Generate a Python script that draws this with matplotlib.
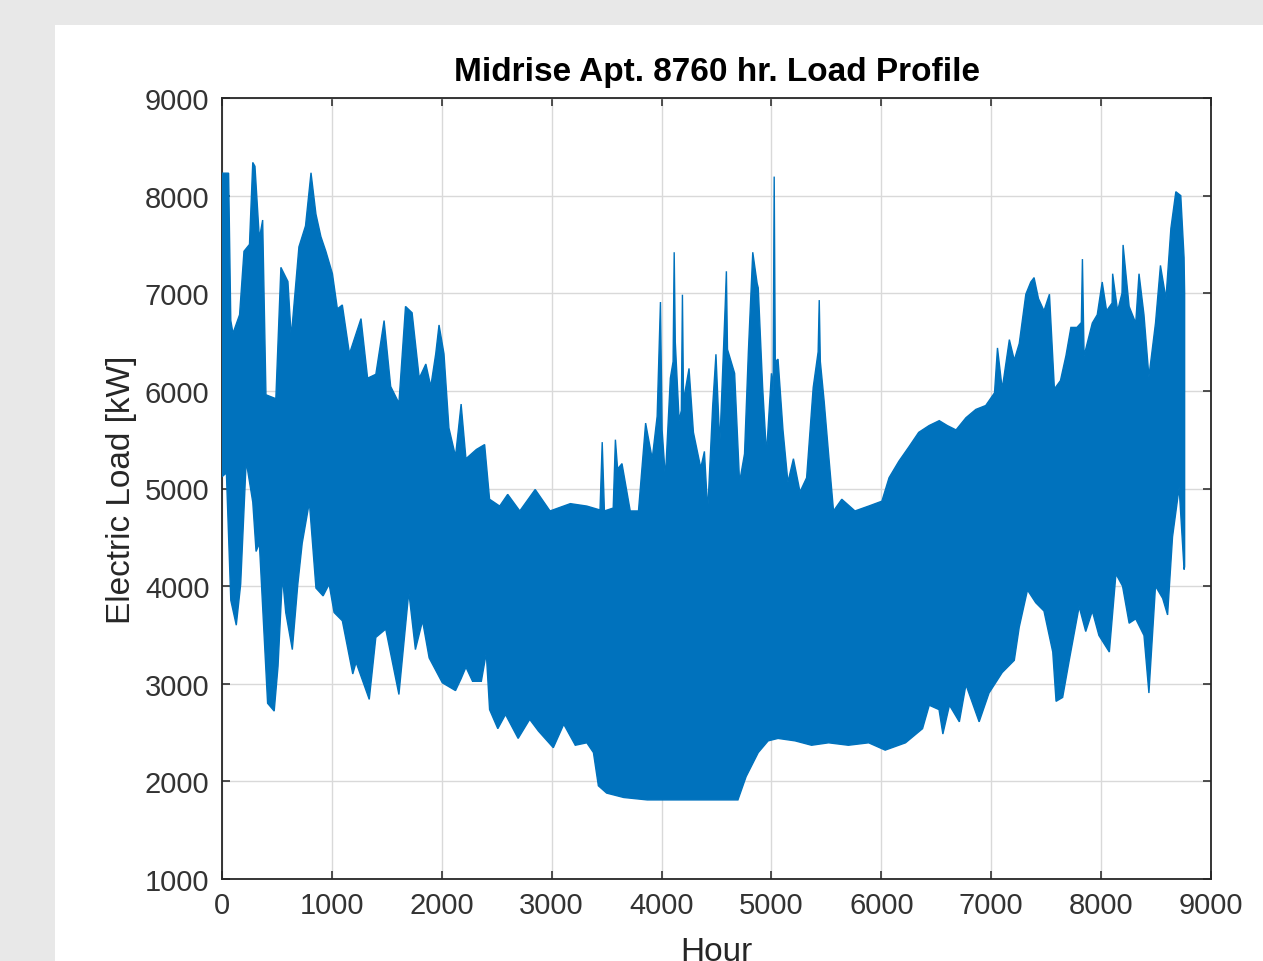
import numpy as np
import matplotlib
matplotlib.use("Agg")
import matplotlib.pyplot as plt
from matplotlib.patches import Rectangle

# upper envelope of the hourly load (hour, kW)
upper_hours = [0, 30, 60, 80, 100, 160, 200, 250, 280, 300, 340, 370, 400, 490, 536, 600, 630,
               700, 760, 810, 855, 900, 945, 1005, 1050, 1095, 1160, 1265, 1325, 1400, 1475, 1535,
               1610, 1670, 1730, 1795, 1855, 1900, 1945, 1975, 2020, 2065, 2125, 2176, 2220, 2315,
               2390, 2435, 2527, 2600, 2710, 2850, 2985, 3170, 3320, 3440, 3460, 3480, 3560, 3580,
               3600, 3640, 3715, 3790, 3855, 3915, 3960, 3990, 4005, 4035, 4080, 4105, 4115, 4125,
               4160, 4180, 4190, 4200, 4250, 4290, 4357, 4390, 4420, 4465, 4495, 4530, 4580, 4590,
               4600, 4665, 4710, 4755, 4790, 4830, 4870, 4880, 4920, 4955, 5000, 5015, 5025, 5035,
               5060, 5105, 5150, 5200, 5260, 5320, 5380, 5425, 5435, 5445, 5480, 5520, 5565, 5640,
               5760, 5885, 6005, 6070, 6160, 6250, 6340, 6435, 6527, 6600, 6680, 6770, 6860, 6950,
               7030, 7057, 7100, 7165, 7210, 7255, 7315, 7360, 7390, 7430, 7480, 7530, 7575, 7630,
               7680, 7725, 7780, 7820, 7830, 7845, 7920, 7965, 8010, 8050, 8100, 8105, 8150, 8190,
               8200, 8255, 8315, 8345, 8390, 8435, 8495, 8540, 8590, 8635, 8680, 8725, 8755, 8760]
upper_load = [8230, 8230, 8230, 6720, 6590, 6780, 7430, 7500, 8340, 8300, 7560, 7750, 5960, 5920,
              7265, 7120, 6550, 7475, 7690, 8234, 7810, 7580, 7430, 7200, 6840, 6880, 6380, 6740,
              6130, 6170, 6720, 6045, 5875, 6865, 6800, 6130, 6275, 6045, 6380, 6675, 6380, 5620,
              5330, 5865, 5305, 5400, 5450, 4890, 4820, 4940, 4770, 4990, 4770, 4845, 4820, 4780,
              5475, 4770, 4800, 5500, 5200, 5255, 4770, 4770, 5670, 5305, 5740, 6910, 5600, 5110,
              6130, 6300, 7420, 6500, 5695, 5800, 6985, 5900, 6230, 5575, 5210, 5380, 4770, 5840,
              6375, 5450, 6900, 7225, 6425, 6180, 5065, 5355, 6400, 7420, 7100, 7055, 6035, 5355,
              6180, 6000, 8195, 6300, 6325, 5600, 5065, 5305, 4965, 5110, 6035, 6400, 6930, 6300,
              5890, 5355, 4770, 4890, 4770, 4820, 4870, 5110, 5280, 5425, 5575, 5645, 5695, 5645,
              5600, 5725, 5810, 5850, 5980, 6440, 6020, 6525, 6315, 6485, 6990, 7115, 7160, 6945,
              6820, 6990, 6020, 6105, 6360, 6650, 6650, 6700, 7350, 6360, 6695, 6780, 7115, 6820,
              6900, 7200, 6820, 7000, 7495, 6865, 6695, 7200, 6780, 6145, 6695, 7285, 6945, 7665,
              8040, 8000, 7365, 7000]

# lower envelope (hour, kW)
lower_hours = [0, 40, 80, 130, 170, 220, 280, 310, 340, 415, 475, 510, 550, 580, 640, 690, 730,
               795, 855, 920, 975, 1020, 1095, 1190, 1220, 1340, 1400, 1490, 1610, 1700, 1760,
               1825, 1885, 2005, 2065, 2125, 2175, 2220, 2280, 2360, 2405, 2435, 2510, 2580, 2695,
               2800, 2880, 3015, 3110, 3215, 3320, 3380, 3425, 3500, 3655, 3870, 4020, 4205, 4420,
               4540, 4695, 4770, 4880, 4970, 5060, 5215, 5365, 5520, 5700, 5885, 6035, 6220, 6375,
               6436, 6525, 6560, 6620, 6710, 6770, 6890, 6980, 7100, 7210, 7255, 7330, 7405, 7480,
               7560, 7590, 7650, 7710, 7800, 7860, 7920, 7980, 8075, 8135, 8195, 8255, 8315, 8390,
               8435, 8495, 8560, 8605, 8650, 8710, 8755, 8760]
lower_load = [5120, 5160, 3855, 3600, 4020, 5280, 4860, 4355, 4440, 2800, 2720, 3180, 4100, 3730,
              3350, 4020, 4440, 4860, 3980, 3900, 4020, 3730, 3645, 3100, 3220, 2840, 3475, 3560,
              2890, 3940, 3350, 3645, 3265, 3010, 2970, 2930, 3050, 3170, 3025, 3025, 3315, 2735,
              2540, 2685, 2440, 2635, 2515, 2345, 2585, 2370, 2395, 2295, 1955, 1880, 1835, 1810,
              1810, 1810, 1810, 1810, 1810, 2050, 2295, 2415, 2440, 2415, 2370, 2395, 2370, 2395,
              2320, 2395, 2540, 2780, 2735, 2485, 2780, 2610, 2990, 2610, 2905, 3115, 3240, 3580,
              3960, 3830, 3745, 3325, 2820, 2860, 3240, 3790, 3535, 3745, 3495, 3325, 4125, 4000,
              3620, 3665, 3495, 2905, 4000, 3875, 3705, 4505, 5010, 4170, 4200]

xticks = np.arange(0, 9001, 1000)
yticks = np.arange(1000, 9001, 1000)

fig = plt.figure(figsize=(12.63, 9.62), dpi=100)
fig.patch.set_facecolor("#e8e8e8")
# white figure panel like the MATLAB window
fig.add_artist(Rectangle((55 / 1263, 0), 1 - 55 / 1263, 1 - 26 / 962,
                         transform=fig.transFigure, facecolor="white",
                         edgecolor="none", zorder=-10))

ax = fig.add_axes([222 / 1263, 1 - 880 / 962, (1211 - 222) / 1263, (880 - 99) / 962])

blue = "#0072BD"
poly_x = np.concatenate([upper_hours, lower_hours[::-1]])
poly_y = np.concatenate([upper_load, lower_load[::-1]])
ax.fill(poly_x, poly_y, color=blue, linewidth=1.0, zorder=3)

ax.set_xlim(0, 9000)
ax.set_ylim(1000, 9000)
ax.set_xticks(xticks)
ax.set_yticks(yticks)

ax.grid(True, color="#d9d9d9", linewidth=1.0, zorder=0)
ax.set_axisbelow(True)
ax.tick_params(direction="in", length=6, width=1.2, top=True, right=True,
               labelsize=21, colors="#333333", pad=9)
for sp in ax.spines.values():
    sp.set_color("#262626")
    sp.set_linewidth(1.3)

ax.set_title("Midrise Apt. 8760 hr. Load Profile", fontsize=24, fontweight="bold",
             family="Liberation Sans", color="black", pad=13)
ax.set_xlabel("Hour", fontsize=24, family="Liberation Sans", color="#262626", labelpad=12)
ax.set_ylabel("Electric Load [kW]", fontsize=24, family="Liberation Sans", color="#262626",
              labelpad=6)
for lab in ax.get_xticklabels() + ax.get_yticklabels():
    lab.set_family("Liberation Sans")

fig.savefig("out.png", dpi=100, facecolor=fig.get_facecolor())
